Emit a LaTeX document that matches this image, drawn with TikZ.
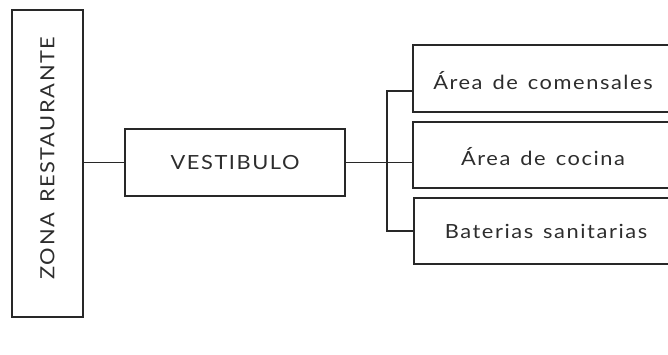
\documentclass[tikz,border=0pt]{standalone}
\usepackage{fontspec}
\setmainfont{Lato}
\newfontfamily\boxfont[FakeStretch=1.12, LetterSpace=8, WordSpace=1.4]{Lato}
\definecolor{txtgray}{RGB}{45,45,45}
\definecolor{linegray}{RGB}{40,40,40}

\begin{document}
\begin{tikzpicture}[x=1pt, y=1pt, line width=1.2pt,
	box/.style = { draw=linegray, rectangle, inner sep=0pt, text=txtgray,
		font=\boxfont\fontsize{19.5}{22}\selectfont}]
	
	% Page frame (also cuts the boxes on the right)
	\clip (0,0) rectangle (668,355);
	
	% Main blocks
	\node[box, minimum width=71, minimum height=307] (zona) at (47.5,191.5) {};
	\node[box, draw=none, rotate=90] (zonatxt) at (47.5,197) {ZONA RESTAURANTE};
	\node[box, minimum width=220, minimum height=67] (vest) at (235,192.5) {VESTIBULO};
	
	% Sub areas
	\node[box, minimum width=260, minimum height=67] (comensales) at (543,276.5) {};
	\node[box, minimum width=260, minimum height=66] (cocina) at (543,200) {};
	\node[box, minimum width=260, minimum height=66] (banos) at (544,124) {};
	\node[box, draw=none] at (543,274) {Área de comensales};
	\node[box, draw=none] at (543,198) {Área de cocina};
	\node[box, draw=none] at (546,124) {Baterias sanitarias};
	
	% Connectors
	\coordinate (j1) at (387,264);
	\coordinate (j3) at (387,124);
	\draw[linegray] (vest.west) -- (vest.west -| zona.east);
	\draw[linegray] (vest.east) -- (vest.east -| cocina.west);
	\draw[linegray] (comensales.west |- j1) -- (j1) -- (j3) -- (banos.west |- j3);
	
\end{tikzpicture}
\end{document}
